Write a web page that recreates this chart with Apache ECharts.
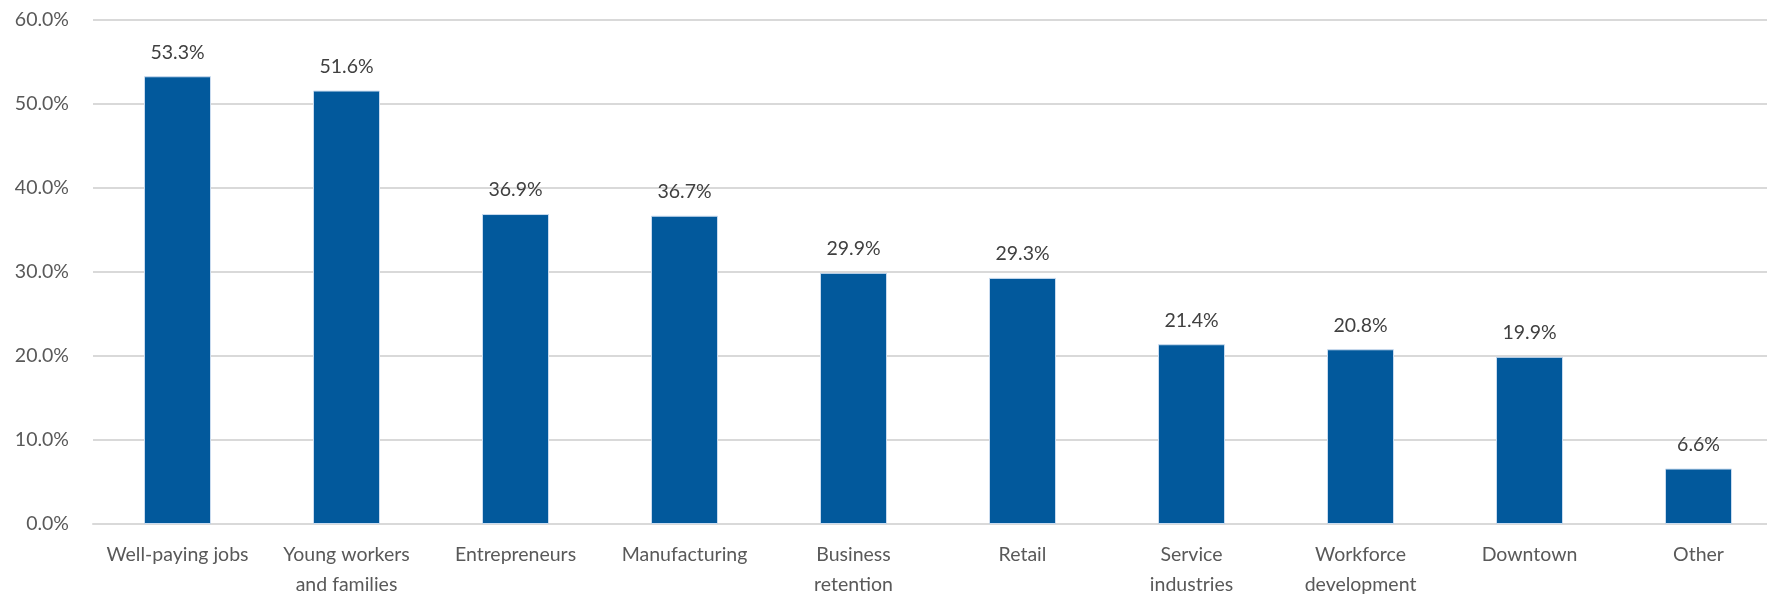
<!DOCTYPE html>
<html>
<head>
<meta charset="utf-8">
<script src="https://cdn.jsdelivr.net/npm/echarts@6/dist/echarts.min.js"></script>
<style>
html,body{margin:0;padding:0;background:#fff;}
#chart{width:1767px;height:596px;}
</style>
</head>
<body>
<div id="chart"></div>
<script>
const categories = ["Well-paying jobs", "Young workers\nand families", "Entrepreneurs", "Manufacturing", "Business\nretention", "Retail", "Service\nindustries", "Workforce\ndevelopment", "Downtown", "Other"];
const values = [53.3, 51.6, 36.9, 36.7, 29.9, 29.3, 21.4, 20.8, 19.9, 6.6];
const yTicks = [0, 10, 20, 30, 40, 50, 60];

const chart = echarts.init(document.getElementById('chart'));
const font = 'Lato, "Open Sans", sans-serif';
chart.setOption({
  animation: false,
  grid: { left: 93, top: 20, width: 1690, bottom: 72, containLabel: false, outerBoundsMode: 'none' },
  xAxis: {
    type: 'category',
    data: categories,
    axisLine: { show: true, lineStyle: { color: '#d9d9d9', width: 2 } },
    axisTick: { show: false },
    axisLabel: { color: '#595959', fontFamily: font, fontSize: 19.5, lineHeight: 30, margin: 16, interval: 0 }
  },
  yAxis: {
    type: 'value',
    min: yTicks[0],
    max: yTicks[yTicks.length - 1],
    interval: 10,
    axisLine: { show: false },
    axisTick: { show: false },
    splitLine: { lineStyle: { color: '#d9d9d9', width: 2 } },
    axisLabel: { color: '#595959', fontFamily: font, fontSize: 19.5, margin: 24, formatter: v => v.toFixed(1) + '%' }
  },
  series: [{
    type: 'bar',
    data: values,
    barWidth: 67,
    itemStyle: { color: '#02599c', borderColor: '#c9dbef', borderWidth: 1 },
    label: {
      show: true, position: 'top', distance: 14,
      color: '#404040', fontFamily: font, fontSize: 19.5,
      formatter: p => p.value.toFixed(1) + '%'
    }
  }]
});
</script>
</body>
</html>
